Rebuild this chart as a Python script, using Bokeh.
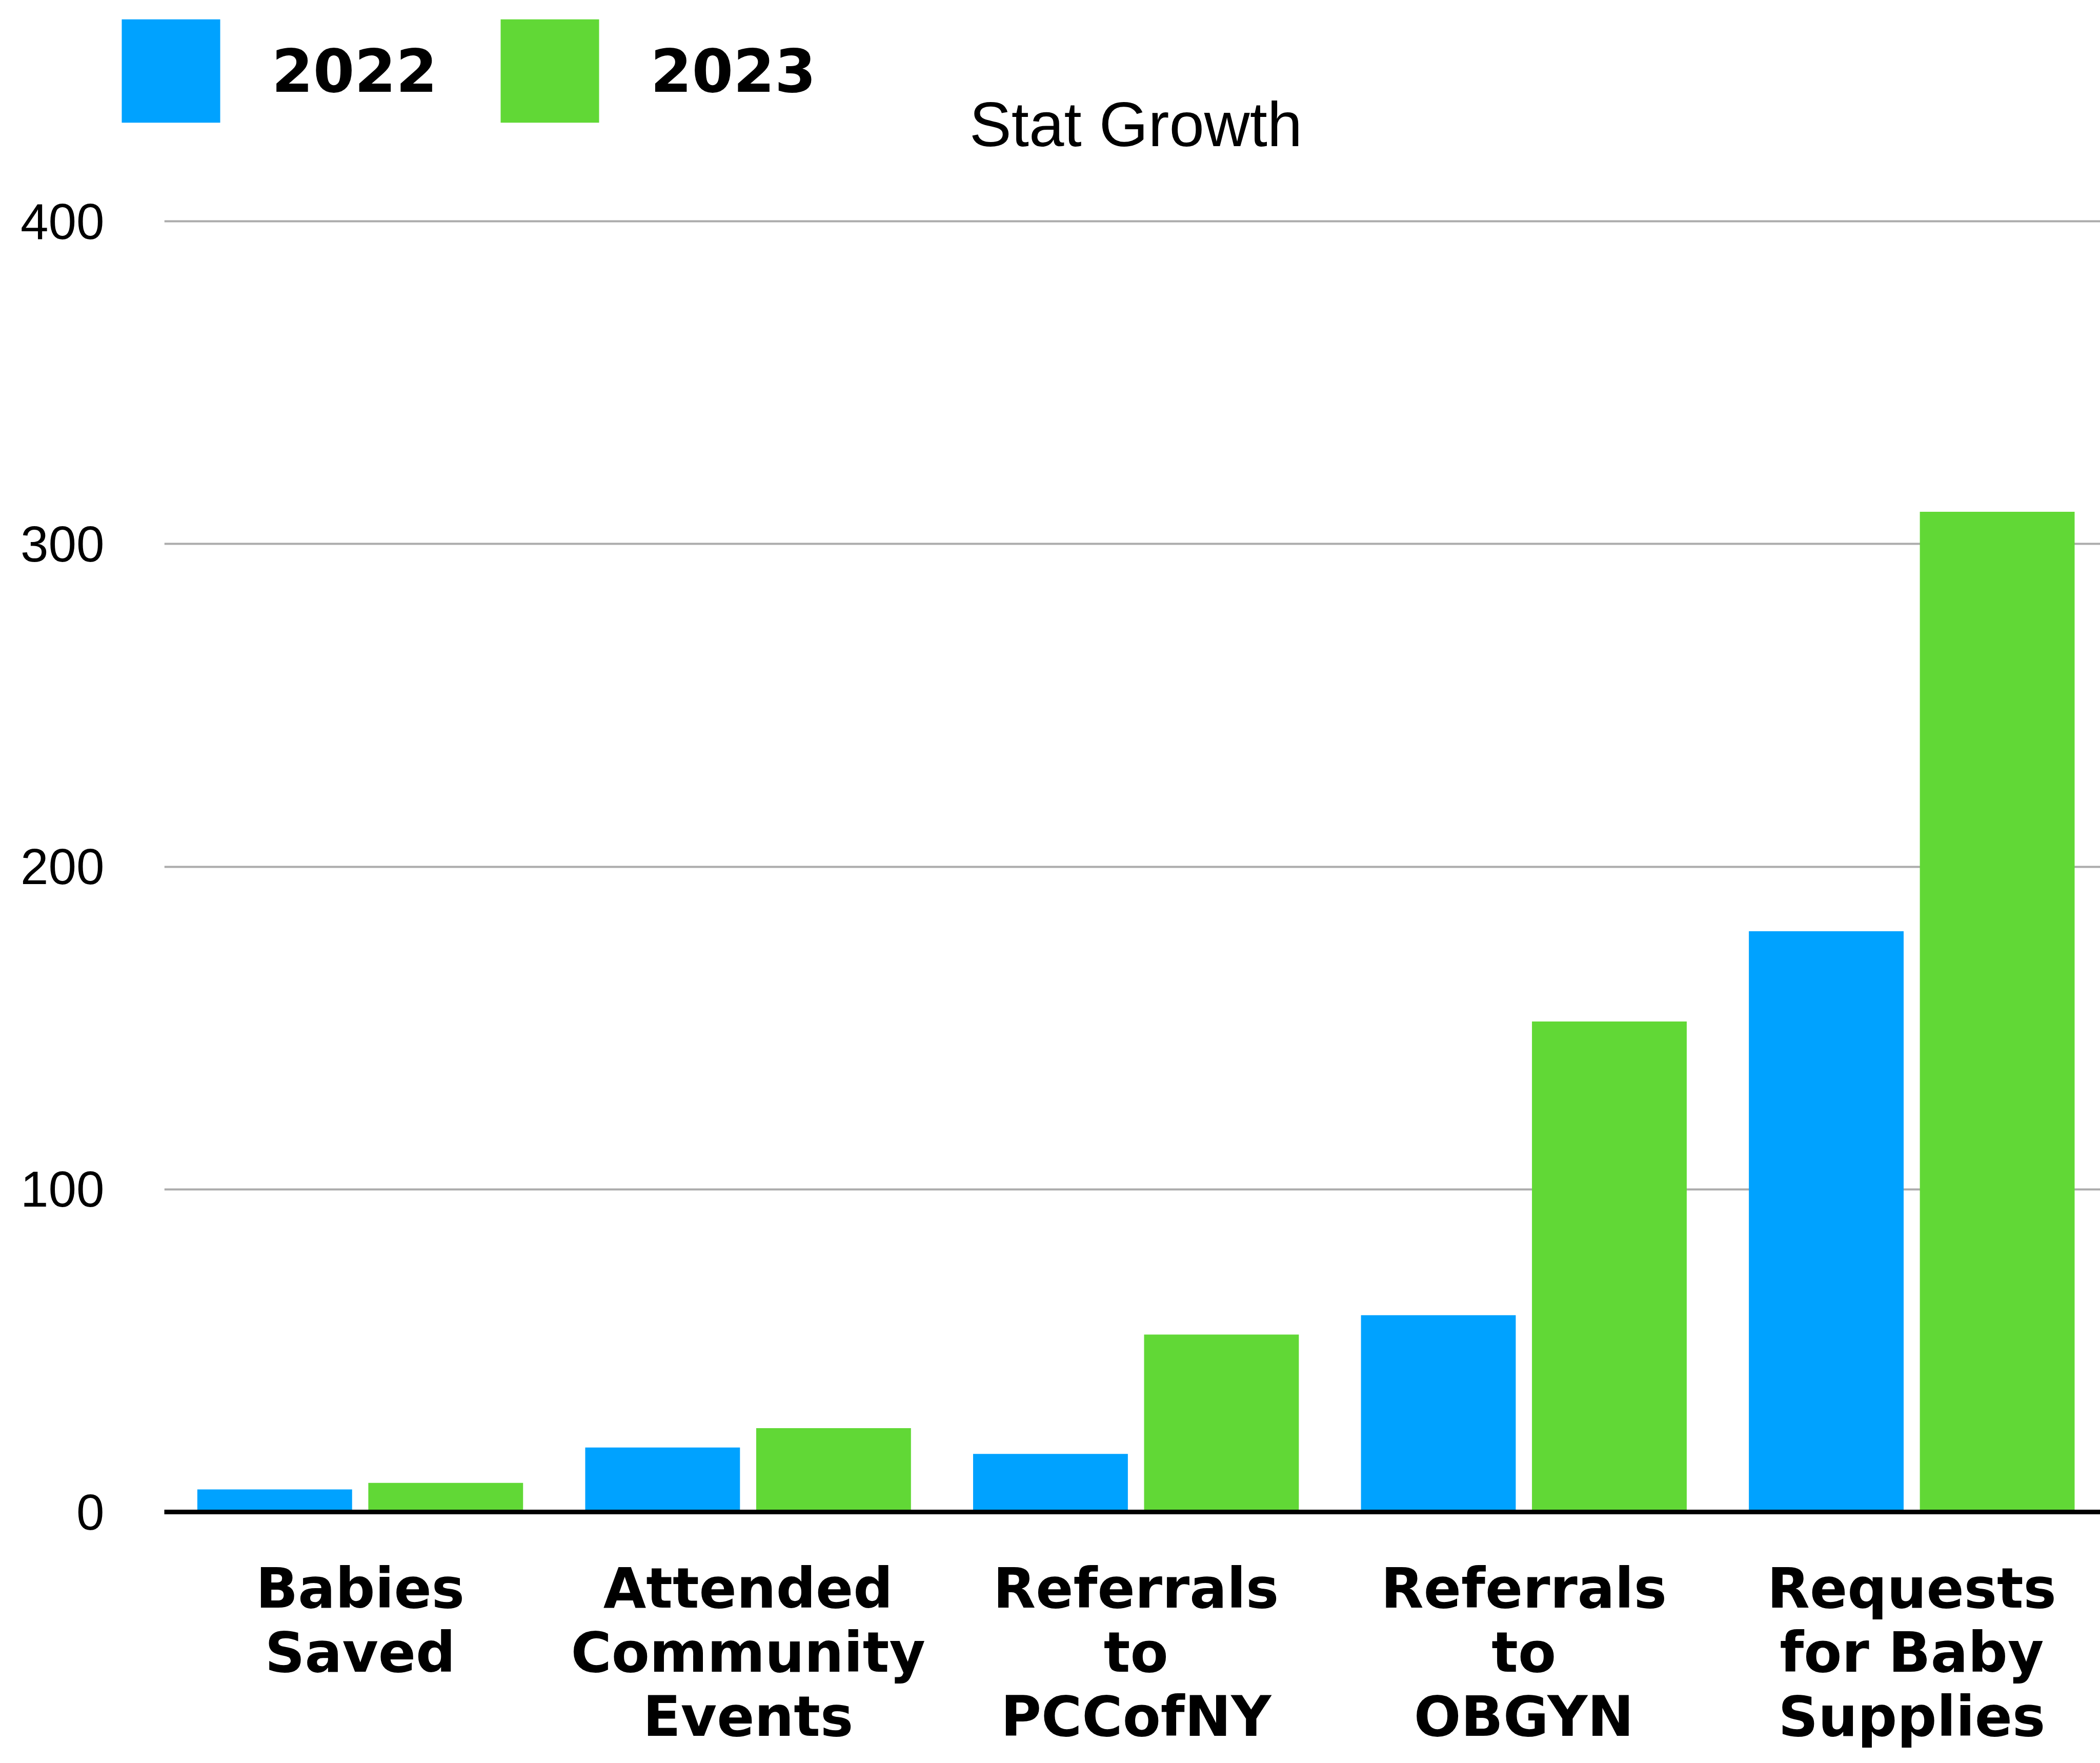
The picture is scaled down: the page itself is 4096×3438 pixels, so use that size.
from bokeh.plotting import figure
from bokeh.models import Range1d, FixedTicker, Legend, LegendItem, ColumnDataSource, Label
from bokeh.layouts import column
from bokeh.transform import dodge
from bokeh.embed import file_html
from bokeh.resources import INLINE

# ---- data ----
categories = ["Babies\nSaved", "Attended\nCommunity\nEvents", "Referrals\nto\nPCCofNY",
              "Referrals\nto\nOBGYN", "Requests\nfor Baby\nSupplies"]
series_names = ["2022", "2023"]
values_2022 = [7, 20, 18, 61, 180]
values_2023 = [9, 26, 55, 152, 310]
y_ticks = [0, 100, 200, 300, 400]
title_text = "Stat Growth"

colors = ["#00A2FF", "#61D836"]

W, H = 4096, 3438
HEAD_H = 345          # header strip (legend + title)
TOP_GAP = 61          # space between header strip and plot frame

x_idx = list(range(len(categories)))
src = ColumnDataSource(dict(x=x_idx, v22=values_2022, v23=values_2023))

# ---- header strip: legend + title ----
head = figure(width=W, height=HEAD_H, output_backend="svg", toolbar_location=None,
              x_range=Range1d(0, W), y_range=Range1d(0, HEAD_H),
              x_axis_location=None, y_axis_location=None,
              min_border_left=0, min_border_right=0, min_border_top=0, min_border_bottom=0)
head.frame_align = False
head.outline_line_color = None
head.xgrid.grid_line_color = None
head.ygrid.grid_line_color = None
head.background_fill_color = "white"
head.border_fill_color = "white"

# hidden copies of the series, used only for the legend swatches
h1 = head.vbar(x="x", top="v22", width=1, source=src, fill_color=colors[0],
               line_color=None, visible=False)
h2 = head.vbar(x="x", top="v23", width=1, source=src, fill_color=colors[1],
               line_color=None, visible=False)

legend = Legend(items=[LegendItem(label=series_names[0], renderers=[h1]),
                       LegendItem(label=series_names[1], renderers=[h2])],
                location=(213, HEAD_H - 12 - 252), orientation="horizontal",
                glyph_width=240, glyph_height=252, label_standoff=77, spacing=99,
                padding=0, margin=0, border_line_color=None,
                background_fill_alpha=0, inactive_fill_alpha=0,
                label_text_font="DejaVu Sans", label_text_font_style="bold",
                label_text_font_size="116px", label_text_color="black")
head.add_layout(legend)

head.add_layout(Label(x=2215, y=HEAD_H - 242, text=title_text, text_align="center",
                      text_baseline="middle", text_font="Liberation Sans",
                      text_font_size="123px", text_color="black"))

# ---- main chart ----
p = figure(width=W, height=H - HEAD_H, output_backend="svg", toolbar_location=None,
           x_range=Range1d(-0.505, 4.486), y_range=Range1d(0, 404),
           min_border_left=320, min_border_right=0, min_border_top=TOP_GAP,
           min_border_bottom=490)
p.frame_align = False
p.outline_line_color = None
p.background_fill_color = "white"
p.border_fill_color = "white"

p.vbar(x=dodge("x", -0.2204), top="v22", width=0.399, source=src,
       fill_color=colors[0], line_color=None)
p.vbar(x=dodge("x", 0.2204), top="v23", width=0.399, source=src,
       fill_color=colors[1], line_color=None)

# x axis
xa = p.xaxis[0]
xa.ticker = FixedTicker(ticks=x_idx)
xa.major_label_overrides = {i: c for i, c in zip(x_idx, categories)}
xa.major_label_text_font = "DejaVu Sans"
xa.major_label_text_font_style = "bold"
xa.major_label_text_font_size = "108px"
xa.major_label_text_color = "black"
xa.major_label_text_line_height = 1.0
xa.major_label_standoff = 86
xa.axis_line_color = "black"
xa.axis_line_width = 9
xa.major_tick_line_color = None
xa.minor_tick_line_color = None
xa.major_tick_out = 0
xa.major_tick_in = 0

# y axis
ya = p.yaxis[0]
ya.ticker = FixedTicker(ticks=y_ticks)
ya.axis_line_color = None
ya.major_tick_line_color = None
ya.minor_tick_line_color = None
ya.major_tick_out = 0
ya.major_tick_in = 0
ya.minor_tick_out = 0
ya.major_label_standoff = 117
ya.major_label_text_font = "Liberation Sans"
ya.major_label_text_font_size = "98px"
ya.major_label_text_color = "black"

p.xgrid.grid_line_color = None
p.ygrid.grid_line_color = "#ababab"
p.ygrid.grid_line_width = 4
p.ygrid.ticker = FixedTicker(ticks=y_ticks)

layout = column(head, p, spacing=0)
open("out.html", "w").write(file_html(layout, INLINE))
